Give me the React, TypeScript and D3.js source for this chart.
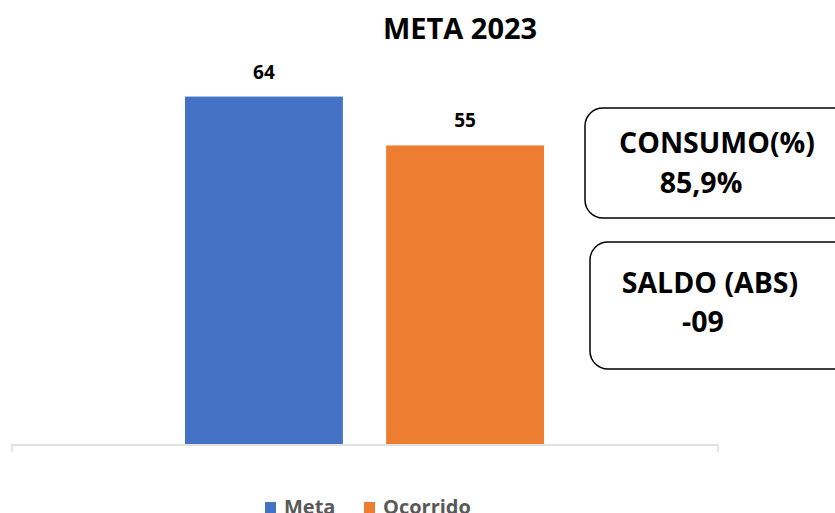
import React, { useEffect, useRef } from 'react';
import * as d3 from 'd3';

const series = ['Meta', 'Ocorrido'];
const values = [64, 55];
const colors = ['#4472C4', '#ED7D31'];
const title = 'META 2023';
const boxes = [
  { label: 'CONSUMO(%)', value: '85,9%' },
  { label: 'SALDO (ABS)', value: '-09' },
];

const W = 835;
const H = 513;
const FONT = 'Open Sans, Noto Sans, sans-serif';

export default function App() {
  const ref = useRef<SVGSVGElement>(null);

  useEffect(() => {
    const svg = d3.select(ref.current);
    svg.selectAll('*').remove();

    const plot = { left: 12, right: 718, top: 64, bottom: 444 };

    const x = d3.scaleBand<string>()
      .domain(series)
      .range([185, 544])
      .paddingInner(0.215);
    const y = d3.scaleLinear().domain([0, 70]).range([plot.bottom, plot.top]);

    svg.append('text')
      .attr('x', 460)
      .attr('y', 39)
      .attr('text-anchor', 'middle')
      .attr('font-family', FONT)
      .attr('font-weight', 700)
      .attr('font-size', 29)
      .attr('fill', '#000')
      .text(title);

    // bars
    svg.selectAll('rect.bar')
      .data(values)
      .enter()
      .append('rect')
      .attr('class', 'bar')
      .attr('x', (d, i) => x(series[i]) as number)
      .attr('width', x.bandwidth())
      .attr('y', d => y(d))
      .attr('height', d => y(0) - y(d))
      .attr('fill', (d, i) => colors[i]);

    svg.selectAll('text.lbl')
      .data(values)
      .enter()
      .append('text')
      .attr('class', 'lbl')
      .attr('x', (d, i) => (x(series[i]) as number) + x.bandwidth() / 2)
      .attr('y', d => y(d) - 18)
      .attr('text-anchor', 'middle')
      .attr('font-family', FONT)
      .attr('font-weight', 700)
      .attr('font-size', 19)
      .attr('fill', '#000')
      .text(d => d);

    // axis baseline
    svg.append('path')
      .attr('d', `M${plot.left},452V${plot.bottom + 1}H${plot.right}V452`)
      .attr('fill', 'none')
      .attr('stroke', '#d9d9d9')
      .attr('stroke-width', 1.3);

    // info boxes
    const boxG = svg.selectAll('g.box')
      .data(boxes)
      .enter()
      .append('g')
      .attr('class', 'box');
    const boxPos = [
      { x: 585, y: 108, h: 110, tx: 717, ty1: 153, ty2: 193, vx: 701 },
      { x: 590, y: 242, h: 127, tx: 710, ty1: 293, ty2: 332, vx: 703 },
    ];
    boxG.append('rect')
      .attr('x', (d, i) => boxPos[i].x)
      .attr('y', (d, i) => boxPos[i].y)
      .attr('width', (d, i) => W + 20 - boxPos[i].x)
      .attr('height', (d, i) => boxPos[i].h)
      .attr('rx', 18)
      .attr('fill', '#fff')
      .attr('stroke', '#000')
      .attr('stroke-width', 1.5);
    boxG.append('text')
      .attr('x', (d, i) => boxPos[i].tx)
      .attr('y', (d, i) => boxPos[i].ty1)
      .attr('text-anchor', 'middle')
      .attr('font-family', FONT)
      .attr('font-weight', 700)
      .attr('font-size', 28.5)
      .text(d => d.label);
    boxG.append('text')
      .attr('x', (d, i) => boxPos[i].vx)
      .attr('y', (d, i) => boxPos[i].ty2)
      .attr('text-anchor', 'middle')
      .attr('font-family', FONT)
      .attr('font-weight', 700)
      .attr('font-size', 28.5)
      .text(d => d.value);

    // legend
    const legX = [265, 364];
    const leg = svg.selectAll('g.leg')
      .data(series)
      .enter()
      .append('g')
      .attr('class', 'leg')
      .attr('transform', (d, i) => `translate(${legX[i]},502)`);
    leg.append('rect')
      .attr('width', 11)
      .attr('height', 11)
      .attr('fill', (d, i) => colors[i]);
    leg.append('text')
      .attr('x', 19)
      .attr('y', 12)
      .attr('font-family', FONT)
      .attr('font-weight', 700)
      .attr('font-size', 20)
      .attr('fill', '#595959')
      .text(d => d);
  }, []);

  return (
    <svg
      ref={ref}
      width={W}
      height={H}
      style={{ position: 'absolute', left: 0, top: 0, background: '#fff' }}
    />
  );
}
